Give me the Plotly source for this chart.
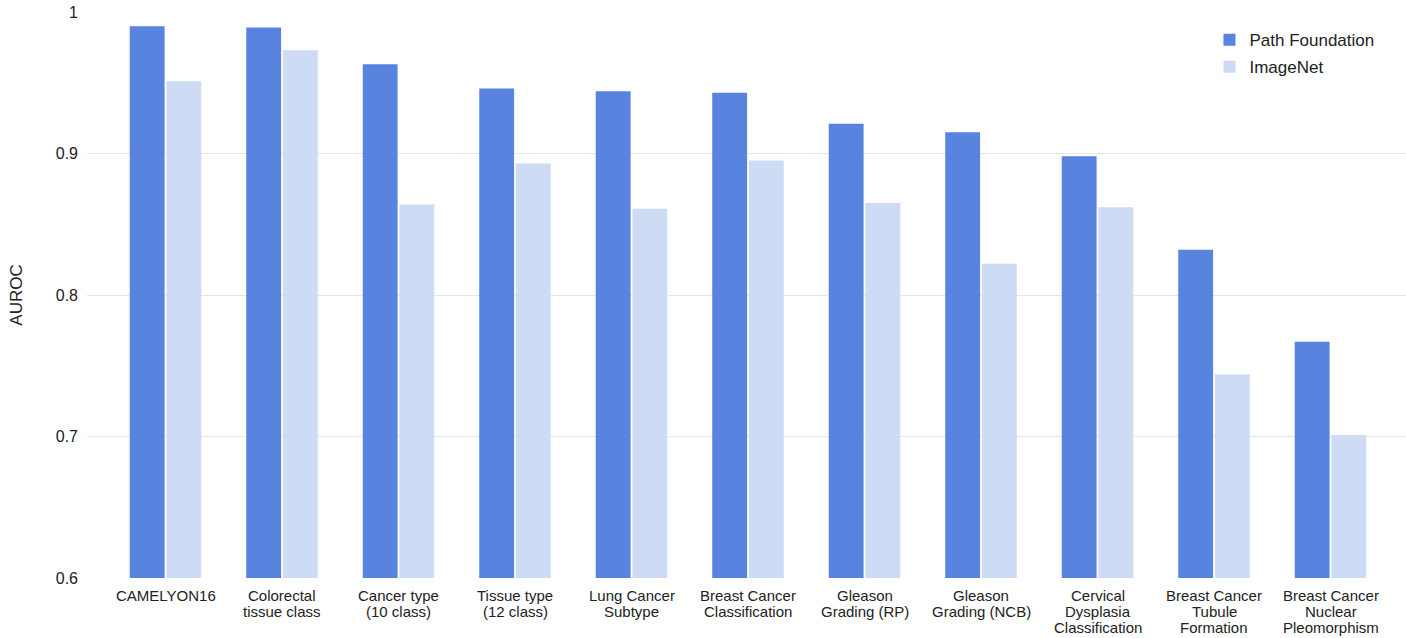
import plotly.graph_objects as go

categories = ["CAMELYON16", "Colorectal<br>tissue class", "Cancer type<br>(10 class)", "Tissue type<br>(12 class)",
              "Lung Cancer<br>Subtype", "Breast Cancer<br>Classification", "Gleason<br>Grading (RP)",
              "Gleason<br>Grading (NCB)", "Cervical<br>Dysplasia<br>Classification",
              "Breast Cancer<br>Tubule<br>Formation", "Breast Cancer<br>Nuclear<br>Pleomorphism"]
path_foundation = [0.990, 0.989, 0.963, 0.946, 0.944, 0.943, 0.921, 0.915, 0.898, 0.832, 0.767]
imagenet = [0.951, 0.973, 0.864, 0.893, 0.861, 0.895, 0.865, 0.822, 0.862, 0.744, 0.701]
y_ticks = [0.6, 0.7, 0.8, 0.9, 1.0]
y_tick_labels = ["0.6", "0.7", "0.8", "0.9", "1"]

FONT = "Liberation Sans, Arial, sans-serif"
x = list(range(len(categories)))

fig = go.Figure()
fig.add_trace(go.Bar(x=x, y=path_foundation, name="Path Foundation", marker_color="#5884e0",
                     marker_line_width=0, legendgroup="a"))
fig.add_trace(go.Bar(x=x, y=imagenet, name="ImageNet", marker_color="#cddbf5",
                     marker_line_width=0, legendgroup="b"))

# category labels, one annotation per line for tight line spacing
for i, cat in enumerate(categories):
    for j, line in enumerate(cat.split("<br>")):
        fig.add_annotation(x=i, y=0, xref="x", yref="paper", text=line, showarrow=False,
                           xanchor="center", yanchor="top", yshift=-7 - 16 * j,
                           font=dict(size=15, color="#222222", family=FONT))

fig.update_layout(
    width=1406, height=638,
    margin=dict(l=87, r=0, t=12, b=60),
    paper_bgcolor="white", plot_bgcolor="white",
    barmode="group", bargap=0.37, bargroupgap=0.05,
    font=dict(family=FONT, color="#222222", size=15),
    legend=dict(x=0.851, y=0.982, xanchor="left", yanchor="top", bgcolor="rgba(0,0,0,0)",
                font=dict(size=17, color="#222222"), itemwidth=30,
                traceorder="grouped", tracegroupgap=2),
    xaxis=dict(tickmode="array", tickvals=x, ticktext=[""] * len(x), range=[-0.674, 10.648],
               showgrid=False, zeroline=False, showline=False, ticks="", automargin=False),
    yaxis=dict(range=[0.6, 1.0], tickvals=y_ticks, ticktext=y_tick_labels,
               showgrid=True, gridcolor="#e6e6e6", gridwidth=1, zeroline=False,
               tickfont=dict(size=16, color="#222222"), ticks="", ticklabelstandoff=8,
               ticklabeloverflow="allow", automargin=False,
               title=dict(text="AUROC", font=dict(size=17, color="#222222"), standoff=28)),
)

fig.write_html("out.html", config={"displayModeBar": False},
               post_script="document.body.style.margin='0';document.body.style.overflow='hidden';")
